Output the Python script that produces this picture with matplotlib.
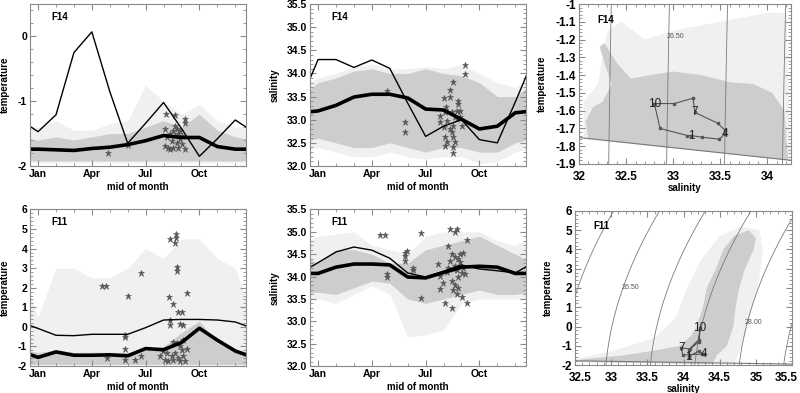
import numpy as np
import matplotlib.pyplot as plt
from matplotlib.ticker import AutoMinorLocator, MultipleLocator
from matplotlib.transforms import ScaledTranslation

plt.rcParams['font.family'] = ['Liberation Sans', 'DejaVu Sans']
plt.rcParams['font.weight'] = 'bold'
plt.rcParams['axes.unicode_minus'] = False

# ---- data (x in months, 1 = mid January) ----
month_ticks = [1, 4, 7, 10]
month_names = ['Jan', 'Apr', 'Jul', 'Oct']

# F14 monthly curves
f14_temp_thin = [-1.47, -1.21, -0.25, 0.07, -0.85, -1.65, -1.34, -1.02, -1.42, -1.85, -1.58, -1.29]
f14_temp_mean = [-1.74, -1.75, -1.76, -1.73, -1.71, -1.67, -1.61, -1.53, -1.56, -1.56, -1.70, -1.74]
f14_salt_thin = [34.30, 34.30, 34.13, 34.29, 34.11, 33.36, 32.64, 32.86, 33.00, 32.57, 32.50, 33.38]
f14_salt_mean = [33.19, 33.31, 33.49, 33.55, 33.55, 33.47, 33.23, 33.21, 33.01, 32.80, 32.86, 33.15]

# F11 monthly curves
f11_temp_thin = [-0.08, -0.43, -0.45, -0.38, -0.38, -0.38, -0.04, 0.35, 0.38, 0.38, 0.35, 0.25]
f11_temp_mean = [-1.56, -1.28, -1.45, -1.45, -1.43, -1.48, -1.11, -1.17, -0.80, -0.07, -0.68, -1.23]
f11_salt_thin = [34.31, 34.55, 34.66, 34.59, 34.41, 34.08, 33.99, 34.12, 34.26, 34.17, 34.13, 34.08]
f11_salt_mean = [34.07, 34.21, 34.28, 34.28, 34.26, 33.99, 33.97, 34.09, 34.21, 34.23, 34.21, 34.07]

# envelopes of the grey model clouds (dense core, sparse outer)
f14_temp_core = ([-1.92] * 12,
                 [-1.60, -1.55, -1.60, -1.55, -1.50, -1.50, -1.40, -1.30, -1.40, -1.20, -1.45, -1.55])
f14_temp_outer = ([-1.95] * 12,
                  [-1.40, -1.30, -1.45, -1.45, -1.35, -1.30, -0.75, -1.00, -1.20, -1.05, -1.30, -1.40])
f14_salt_core = ([32.60, 32.50, 32.40, 32.40, 32.50, 32.40, 32.30, 32.40, 32.40, 32.30, 32.30, 32.50],
                 [33.80, 33.90, 34.05, 34.10, 34.00, 34.00, 34.10, 34.00, 33.95, 33.80, 33.50, 33.50])
f14_salt_outer = ([32.40, 32.30, 32.20, 32.20, 32.30, 32.20, 32.15, 32.20, 32.20, 32.05, 32.10, 32.30],
                  [33.90, 34.00, 34.15, 34.20, 34.10, 34.10, 34.15, 34.10, 34.20, 34.00, 33.80, 33.70])
f11_temp_core = ([-1.92] * 12,
                 [-1.30, -1.20, -1.30, -1.30, -1.30, -1.30, -1.20, -1.00, -0.30, 0.30, -0.80, -1.20])
f11_temp_outer = ([-1.95] * 12,
                  [0.50, 3.00, 3.00, 2.50, 2.50, 3.00, 4.00, 3.50, 4.50, 4.50, 3.50, 3.00])
f11_salt_core = ([33.65, 33.60, 33.75, 33.90, 33.85, 33.50, 33.40, 33.50, 33.60, 33.70, 33.60, 33.60],
                 [34.30, 34.60, 34.60, 34.50, 34.30, 34.30, 34.60, 34.70, 34.80, 34.90, 34.70, 34.50])
f11_salt_outer = ([33.50, 33.40, 33.60, 33.80, 33.60, 32.65, 32.70, 32.80, 33.40, 33.50, 33.50, 33.50],
                  [34.90, 34.95, 35.00, 34.70, 34.60, 34.50, 34.90, 35.00, 35.00, 35.00, 34.80, 34.70])

# observations (month, value)
obs_f14_temp = [(4.92, -1.80), (6.00, -1.68), (8.15, -1.19), (8.62, -1.22), (9.18, -1.28), (9.18, -1.33),
                (8.08, -1.43), (8.17, -1.56), (8.08, -1.69), (8.26, -1.72), (8.36, -1.51), (8.45, -1.61),
                (8.54, -1.46), (8.54, -1.72), (8.64, -1.54), (8.73, -1.64), (8.73, -1.43), (8.82, -1.51),
                (8.91, -1.59), (8.91, -1.46), (9.01, -1.54), (8.82, -1.72), (9.01, -1.66), (8.36, -1.74),
                (8.64, -1.38), (9.18, -1.73)]
obs_f14_salt = [(4.86, 33.63), (5.85, 32.94), (5.85, 32.74), (9.19, 34.19), (9.19, 33.99), (8.54, 33.81),
                (8.36, 33.64), (8.36, 33.50), (8.02, 33.48), (7.80, 33.09), (7.80, 32.94), (8.13, 33.28),
                (8.08, 33.17), (8.17, 32.98), (8.02, 32.85), (8.08, 32.62), (8.08, 32.44), (8.17, 32.51),
                (8.51, 32.40), (8.51, 32.29), (8.45, 32.73), (8.54, 32.87), (8.64, 33.05), (8.73, 33.19),
                (8.82, 33.34), (8.92, 33.19), (8.82, 33.41), (8.73, 33.01), (8.51, 32.62), (8.36, 32.80),
                (8.64, 32.51), (8.45, 33.16), (8.92, 33.05), (9.01, 32.87)]
obs_f11_temp = [(4.55, 2.08), (4.79, 2.08), (6.00, 1.58), (6.72, 2.75), (8.36, 4.50), (8.69, 4.75),
                (8.69, 4.53), (8.64, 4.28), (8.73, 3.08), (8.73, 2.87), (8.32, 1.53), (8.54, 1.17),
                (9.29, 1.75), (8.82, 0.75), (9.01, 0.75), (8.36, 0.33), (8.36, 0.08), (8.91, 0.17),
                (9.06, 0.12), (5.85, -0.42), (5.85, -0.53), (5.85, -1.13), (5.85, -1.67), (4.82, -1.58),
                (6.40, -1.67), (6.74, -1.50), (7.80, -1.50), (8.08, -1.67), (8.26, -1.75), (8.45, -1.50),
                (8.64, -1.33), (8.73, -0.83), (8.54, -0.75), (8.91, -1.00), (9.01, -1.17), (9.10, -1.50),
                (9.19, -1.75), (8.17, -1.33), (7.98, -1.25), (8.82, -1.58), (8.54, -1.67), (8.91, -1.75),
                (9.29, -1.13), (9.10, -0.67)]
obs_f11_salt = [(4.45, 34.93), (4.73, 34.93), (5.85, 34.53), (5.85, 34.46), (5.94, 34.57), (5.85, 34.35),
                (4.83, 34.06), (4.83, 33.99), (6.31, 34.20), (6.31, 34.15), (6.72, 34.97), (6.72, 33.51),
                (7.70, 34.28), (7.80, 34.02), (7.80, 33.73), (7.98, 33.86), (8.08, 33.40), (8.26, 34.68),
                (8.36, 35.07), (8.73, 35.07), (8.64, 35.00), (8.45, 33.29), (8.73, 33.62), (9.01, 33.55),
                (9.29, 33.40), (9.29, 34.82), (8.64, 33.80), (8.45, 33.91), (8.82, 33.99), (9.01, 34.09),
                (8.64, 34.24), (8.82, 34.39), (8.92, 34.50), (9.10, 34.53), (8.36, 34.35), (8.26, 34.20),
                (8.54, 34.18), (8.73, 34.15), (8.92, 34.32), (9.10, 34.20), (9.19, 34.06), (8.45, 34.50),
                (8.64, 34.43), (8.17, 34.10), (8.54, 33.70), (8.82, 33.75)]

# T-S clouds (salinity, temperature outlines)
ts_f14_core = [(32.10, -1.76), (32.07, -1.66), (32.15, -1.58), (32.25, -1.55), (32.35, -1.45), (32.28, -1.35),
               (32.22, -1.24), (32.27, -1.22), (32.40, -1.33), (32.55, -1.42), (32.75, -1.40), (33.00, -1.38),
               (33.30, -1.40), (33.60, -1.44), (33.85, -1.45), (34.05, -1.50), (34.18, -1.60), (34.20, -1.75),
               (34.22, -1.88)]
ts_f14_outer = [(32.05, -1.76), (32.05, -1.55), (32.20, -1.45), (32.30, -1.15), (32.45, -1.10), (32.70, -1.20),
                (33.00, -1.15), (33.50, -1.10), (34.00, -1.05), (34.20, -1.05), (34.24, -1.88)]
ts_f11_core = [(32.55, -1.85), (32.60, -1.70), (33.17, -1.50), (33.60, -1.25), (33.95, -1.00), (34.10, -0.50),
               (34.18, 0.00), (34.27, 1.00), (34.32, 2.00), (34.45, 3.00), (34.55, 4.00), (34.70, 4.70),
               (34.90, 5.00), (35.00, 4.60), (34.97, 4.00), (34.85, 3.00), (34.77, 2.00), (34.72, 1.00),
               (34.69, 0.00), (34.60, -1.00), (34.46, -1.50), (34.40, -1.95)]
ts_f11_outer = [(32.50, -1.80), (32.50, -1.70), (33.00, -1.30), (33.60, -0.60), (33.90, 0.50), (34.05, 2.00),
                (34.25, 3.50), (34.50, 4.70), (34.80, 5.20), (35.05, 5.00), (35.10, 4.00), (35.05, 2.50),
                (34.95, 1.00), (34.85, -0.50), (34.75, -1.50), (34.70, -1.98)]

sigma_levels = [25.5, 26.0, 26.5, 27.0, 27.5, 28.0, 28.5, 29.0]
loop_labels = [1, 4, 7, 10]

CORE = '#cdcdcd'
OUTER = '#f0f0f0'
STAR = '#555555'
FRAME = '#8a8a8a'


def wrap(v):
    # cyclic year: Dec before Jan, Jan after Dec
    v = list(v)
    return np.arange(0, 14), np.array([v[-1]] + v + [v[0]])


def style(ax, tick_size, xpad=2):
    for s in ax.spines.values():
        s.set_color(FRAME)
        s.set_linewidth(0.8)
    ax.tick_params(which='both', direction='in', top=True, right=True, color=FRAME,
                   labelsize=tick_size, pad=2)
    ax.tick_params(axis='x', pad=xpad)
    ax.tick_params(which='major', length=4)
    ax.tick_params(which='minor', length=2)


def time_panel(rect, tag, ylabel, ylim, yticks, yfmt, thin, mean, core, outer, obs):
    ax = fig.add_axes(rect)
    x, lo = wrap(outer[0])
    _, hi = wrap(outer[1])
    ax.fill_between(x, lo, hi, color=OUTER, lw=0)
    x, lo = wrap(core[0])
    _, hi = wrap(core[1])
    ax.fill_between(x, lo, hi, color=CORE, lw=0)
    om, ov = np.array(obs).T
    ax.plot(om, ov, ls='none', marker='*', ms=5, color=STAR, mew=0.4)
    ax.plot(*wrap(thin), color='black', lw=1.0)
    ax.plot(*wrap(mean), color='black', lw=2.6)
    ax.set_xlim(0.55, 12.6)
    ax.set_ylim(*ylim)
    ax.set_xticks(month_ticks)
    ax.set_xticklabels(month_names)
    ax.xaxis.set_minor_locator(MultipleLocator(1))
    ax.set_yticks(yticks)
    ax.set_yticklabels([yfmt % v for v in yticks])
    ax.yaxis.set_minor_locator(AutoMinorLocator(5))
    style(ax, 7.5)
    ax.set_xlabel('mid of month', fontsize=7, fontweight='bold')
    ax.set_ylabel(ylabel, fontsize=7, fontweight='bold')
    ax.xaxis.set_label_coords(0.5, -0.1)
    ax.text(0.1, 0.9, tag, transform=ax.transAxes, fontsize=7, fontweight='bold')
    return ax


def sigma0(S, T):
    rw = (999.842594 + 6.793952e-2 * T - 9.095290e-3 * T**2 + 1.001685e-4 * T**3
          - 1.120083e-6 * T**4 + 6.536332e-9 * T**5)
    a = 0.824493 - 4.0899e-3 * T + 7.6438e-5 * T**2 - 8.2467e-7 * T**3 + 5.3875e-9 * T**4
    b = -5.72466e-3 + 1.0227e-4 * T - 1.6546e-6 * T**2
    return rw + a * S + b * S**1.5 + 4.8314e-4 * S**2 - 1000


def freezing(S):
    return -0.0575 * S + 1.710523e-3 * S**1.5 - 2.154996e-4 * S**2


def ts_panel(rect, tag, xlim, ylim, xticks, xlabels, yticks, ylabels, core, outer, salt, temp, labels):
    ax = fig.add_axes(rect)
    ax.fill(*np.array(outer).T, color=OUTER, lw=0)
    ax.fill(*np.array(core).T, color=CORE, lw=0)
    sg, tg = np.meshgrid(np.linspace(xlim[0], xlim[1], 200), np.linspace(ylim[0], ylim[1], 200))
    ax.contour(sg, tg, sigma0(sg, tg), levels=sigma_levels, colors='#7a7a7a', linewidths=0.6)
    for s, t, txt in labels:
        ax.text(s, t, txt, fontsize=5, fontweight='normal', color='#555555', va='center')
    sl = np.array(xlim)
    ax.plot(sl, freezing(sl), color='#7a7a7a', lw=0.8)
    loop_s = list(salt) + [salt[0]]
    loop_t = list(temp) + [temp[0]]
    ax.plot(loop_s, loop_t, color='#555555', lw=0.8, marker='s', ms=2)
    for m in loop_labels:
        ax.text(salt[m - 1], temp[m - 1], str(m), fontsize=8.5, fontweight='normal',
                color='#222222', va='center', ha='center')
    ax.set_xlim(*xlim)
    ax.set_ylim(*ylim)
    ax.set_xticks(xticks)
    ax.set_xticklabels(xlabels)
    ax.set_yticks(yticks)
    ax.set_yticklabels(ylabels)
    ax.xaxis.set_minor_locator(AutoMinorLocator(5))
    ax.yaxis.set_minor_locator(AutoMinorLocator(5))
    style(ax, 8.5, xpad=5)
    ax.set_xlabel('salinity', fontsize=7, fontweight='bold')
    ax.set_ylabel('temperature', fontsize=7, fontweight='bold')
    ax.xaxis.set_label_coords(0.5, -0.12)
    ax.text(0.085, 0.88, tag, transform=ax.transAxes, fontsize=7, fontweight='bold')
    return ax


fig = plt.figure(figsize=(8, 3.93), dpi=100)

temp_top_ticks = [-2, -1, 0]
salt_ticks = [32.0, 32.5, 33.0, 33.5, 34.0, 34.5, 35.0, 35.5]
temp_bot_ticks = [-2, -1, 0, 1, 2, 3, 4, 5, 6]

ax = time_panel([0.0375, 0.5776, 0.27, 0.4122], 'F14', 'temperature', (-2, 0.5),
                temp_top_ticks, '%d', f14_temp_thin, f14_temp_mean, f14_temp_core, f14_temp_outer, obs_f14_temp)
ax.yaxis.set_label_coords(-0.093, 0.5)
ax = time_panel([0.3875, 0.5776, 0.27, 0.4122], 'F14', 'salinity', (32, 35.5),
                salt_ticks, '%.1f', f14_salt_thin, f14_salt_mean, f14_salt_core, f14_salt_outer, obs_f14_salt)
ax.yaxis.set_label_coords(-0.14, 0.5)
ax = time_panel([0.0375, 0.0687, 0.27, 0.3983], 'F11', 'temperature', (-2, 6),
                temp_bot_ticks, '%d', f11_temp_thin, f11_temp_mean, f11_temp_core, f11_temp_outer, obs_f11_temp)
ax.yaxis.set_label_coords(-0.093, 0.5)
ax = time_panel([0.3875, 0.0687, 0.27, 0.3983], 'F11', 'salinity', (32, 35.5),
                salt_ticks, '%.1f', f11_salt_thin, f11_salt_mean, f11_salt_core, f11_salt_outer, obs_f11_salt)
ax.yaxis.set_label_coords(-0.14, 0.5)

ts14_y = [-1.9, -1.8, -1.7, -1.6, -1.5, -1.4, -1.3, -1.2, -1.1, -1.0]
ax = ts_panel([0.72375, 0.5827, 0.265, 0.4071], 'F14', (32, 34.25), (-1.9, -1.0),
              [32, 32.5, 33, 33.5, 34], ['32', '32.5', '33', '33.5', '34'],
              ts14_y, ['%g' % v for v in ts14_y], ts_f14_core, ts_f14_outer,
              f14_salt_mean, f14_temp_mean, [(32.93, -1.18, '26.50')])
ax.yaxis.set_label_coords(-0.15, 0.5)

ts11_x = [32.5, 33, 33.5, 34, 34.5, 35, 35.5]
ax = ts_panel([0.71875, 0.0712, 0.27125, 0.392], 'F11', (32.5, 35.5), (-2, 6),
              ts11_x, ['%g' % v for v in ts11_x],
              temp_bot_ticks, ['%d' % v for v in temp_bot_ticks], ts_f11_core, ts_f11_outer,
              f11_salt_mean, f11_temp_mean, [(33.15, 2.0, '26.50'), (34.84, 0.2, '28.00')])
ax.yaxis.set_label_coords(-0.10, 0.5)
xl = ax.get_xticklabels()
xl[0].set_transform(xl[0].get_transform() + ScaledTranslation(5 / 100, 0, fig.dpi_scale_trans))
xl[-1].set_horizontalalignment('right')
xl[-1].set_transform(xl[-1].get_transform() + ScaledTranslation(6 / 100, 0, fig.dpi_scale_trans))

fig.savefig('out.png', dpi=100)
